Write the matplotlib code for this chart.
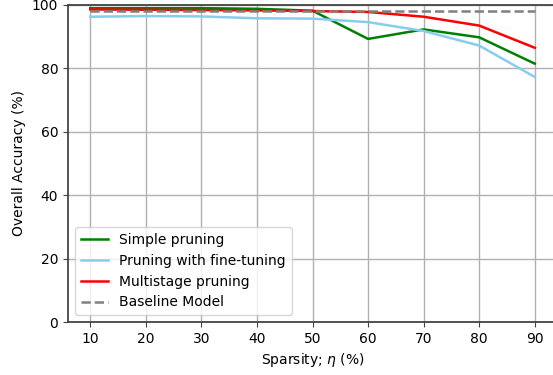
import matplotlib
matplotlib.use('Agg')
import matplotlib.pyplot as plt

sparsity = [10, 20, 30, 40, 50, 60, 70, 80, 90]
simple_pruning = [99.0, 99.0, 99.0, 98.8, 98.2, 89.3, 92.3, 89.8, 81.5]
fine_tuning = [96.3, 96.5, 96.4, 95.8, 95.7, 94.6, 91.8, 87.2, 77.3]
multistage = [98.6, 98.5, 98.4, 98.3, 98.1, 97.8, 96.3, 93.5, 86.5]
baseline = 98.1

fig = plt.figure(figsize=(5.53, 3.75), dpi=100)
ax = fig.add_axes([68 / 553, 1 - 322 / 375, (557 - 68) / 553, (322 - 5) / 375])

ax.plot(sparsity, simple_pruning, color='green', lw=1.8, label='Simple pruning')
ax.plot(sparsity, fine_tuning, color='skyblue', lw=1.8, label='Pruning with fine-tuning')
ax.plot(sparsity, multistage, color='red', lw=1.8, label='Multistage pruning')
ax.plot(sparsity, [baseline] * len(sparsity), color='gray', ls='--', lw=1.8, label='Baseline Model')

ax.set_ylim(0, 100)
ax.set_xlim(6, 94)
ax.set_xticks(sparsity)
ax.set_xlabel(r'Sparsity; $\eta$ (%)')
ax.set_ylabel('Overall Accuracy (%)')
ax.grid(True, color='#b0b0b0', lw=1.0)
for s in ax.spines.values():
    s.set_color('#444444')
    s.set_linewidth(1.3)
ax.tick_params(color='#444444')
ax.legend(loc='lower left')

fig.savefig('out.png', dpi=100)
